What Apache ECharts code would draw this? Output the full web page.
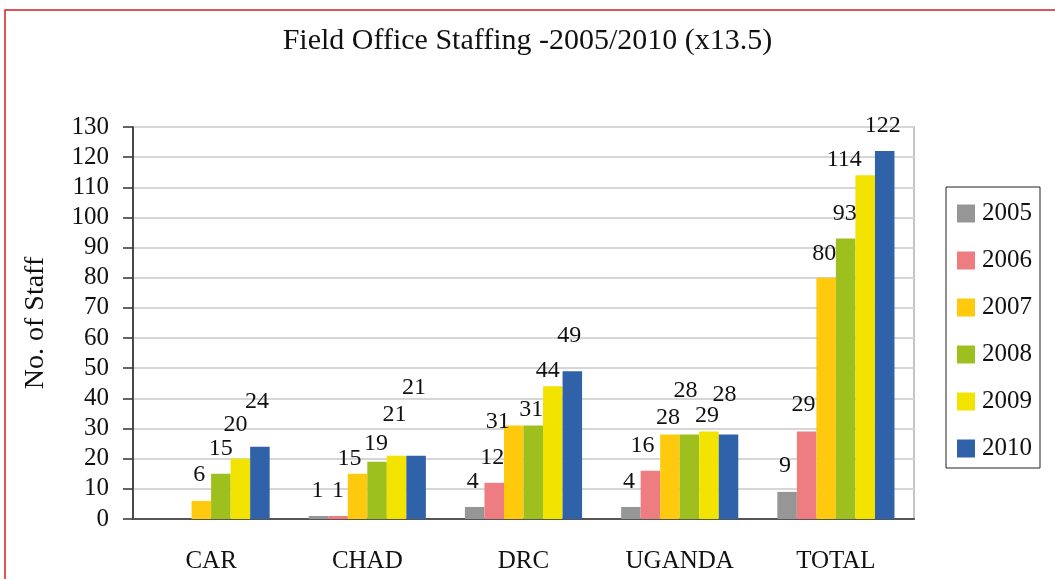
<!DOCTYPE html>
<html>
<head>
<meta charset="utf-8">
<script src="https://cdn.jsdelivr.net/npm/echarts@6/dist/echarts.min.js"></script>
<style>
html,body{margin:0;padding:0;background:#fff;}
#chart{width:1055px;height:579px;}
</style>
</head>
<body>
<div id="chart"></div>
<script>
const categories = ['CAR', 'CHAD', 'DRC', 'UGANDA', 'TOTAL'];
const years = ['2005', '2006', '2007', '2008', '2009', '2010'];
const s2005 = [null, 1, 4, 4, 9];
const s2006 = [null, 1, 12, 16, 29];
const s2007 = [6, 15, 31, 28, 80];
const s2008 = [15, 19, 31, 28, 93];
const s2009 = [20, 21, 44, 29, 114];
const s2010 = [24, 21, 49, 28, 122];
const yTicks = [0, 10, 20, 30, 40, 50, 60, 70, 80, 90, 100, 110, 120, 130];

// value-label placement (as hand-moved in the original): horizontal shift and height above bar top
const labelShiftX = [
  [0, -1, -2, -2, -2],
  [0, 0, -2, -8, -3],
  [-2, -8, -16, -2, -2],
  [0, -1, -2, -4, -1],
  [-5, -2, -5, -2, -21],
  [-3, -2, -3, -4, -2]
];
const labelLift = [
  [26, 26, 26, 26, 27],
  [26, 26, 26, 26, 28],
  [27, 16, 5, 18, 25],
  [26, 19, 17, 45, 26],
  [35, 42, 17, 17, 17],
  [46, 69, 37, 41, 26]
];

const seriesData = [s2005, s2006, s2007, s2008, s2009, s2010];
const colors = ['#969696', '#EE7D82', '#FFC90E', '#9DC01E', '#F2E400', '#2F62A8'];
const FONT = '"Liberation Serif", "Times New Roman", serif';

const chart = echarts.init(document.getElementById('chart'), null, {renderer: 'canvas'});
chart.setOption({
  animation: false,
  color: colors,
  textStyle: {fontFamily: FONT},
  title: {
    text: 'Field Office Staffing -2005/2010 (x13.5)',
    left: 'center',
    top: 21,
    textStyle: {fontFamily: FONT, fontSize: 30, fontWeight: 'normal', color: '#111'}
  },
  graphic: [{
    type: 'rect',
    shape: {x: 5, y: 10, width: 1200, height: 800},
    style: {fill: 'none', stroke: '#d42020', lineWidth: 1.5},
    silent: true, z: -1
  }],
  legend: {
    orient: 'vertical',
    left: 946,
    top: 187,
    width: 95,
    padding: [14, 8, 7, 11],
    borderColor: '#222',
    borderWidth: 1,
    itemWidth: 18,
    itemHeight: 18,
    itemGap: 22,
    icon: 'rect',
    data: years,
    textStyle: {fontFamily: FONT, fontSize: 25, color: '#111', lineHeight: 24, padding: [0, 0, 0, 2]}
  },
  grid: {
    left: 133, right: 141, top: 127, bottom: 60,
    show: true, borderColor: '#c4c4c4', borderWidth: 2, backgroundColor: 'transparent'
  },
  xAxis: {
    type: 'category',
    data: categories,
    axisLine: {show: true, lineStyle: {color: '#555', width: 2}},
    axisTick: {show: false},
    axisLabel: {fontFamily: FONT, fontSize: 25, color: '#111', margin: 30}
  },
  yAxis: {
    type: 'value',
    min: yTicks[0],
    max: yTicks[yTicks.length - 1],
    interval: 10,
    name: 'No. of Staff',
    nameLocation: 'middle',
    nameGap: 83,
    nameRotate: 90,
    nameTextStyle: {fontFamily: FONT, fontSize: 28, color: '#111'},
    axisLine: {show: true, lineStyle: {color: '#222', width: 1.5}},
    axisTick: {show: true, length: 10, lineStyle: {color: '#333', width: 1.5}},
    axisLabel: {fontFamily: FONT, fontSize: 25, color: '#111', margin: 24},
    splitLine: {show: true, lineStyle: {color: '#d6d6d6', width: 2}}
  },
  series: years.map((y, i) => ({
    name: y,
    type: 'bar',
    data: seriesData[i].map((v, j) => ({
      value: v,
      label: {offset: [labelShiftX[i][j], 25 - labelLift[i][j]]}
    })),
    barGap: '0%',
    barCategoryGap: '25%',
    itemStyle: {color: colors[i]},
    label: {
      show: true,
      position: 'top',
      distance: 12,
      fontFamily: FONT,
      fontSize: 24,
      color: '#111'
    }
  }))
});
</script>
</body>
</html>
